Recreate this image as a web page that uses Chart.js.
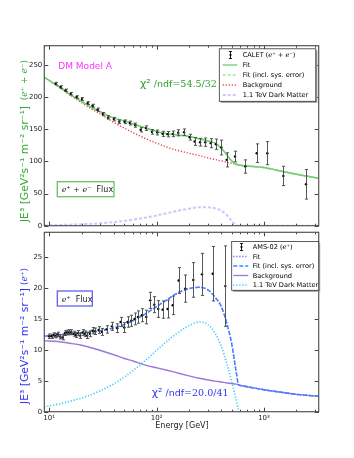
<!DOCTYPE html>
<html>
<head>
<meta charset="utf-8">
<script src="https://cdn.jsdelivr.net/npm/chart.js@4.4.1/dist/chart.umd.min.js"></script>
<style>
  html, body { margin: 0; padding: 0; background: #fff; }
  #wrap { position: relative; width: 354px; height: 458px; }
  canvas { position: absolute; left: 0; top: 0; }
</style>
</head>
<body>
<div id="wrap">
  <canvas id="topChart" width="354" height="458"></canvas>
  <canvas id="botChart" width="354" height="458"></canvas>
</div>
<script>
// ---- CALET e+ + e- flux (top panel)
var caletE = [11.5, 12.8, 14.2, 15.9, 18.0, 20.2, 22.8, 25.3, 28.2, 31.6, 35.5, 40.0, 44.9, 50.3, 56.4, 63.3, 71.0, 79.6, 90.5, 101.5,
  113.7, 126.6, 142, 159, 180, 203, 226, 254, 284, 319, 357, 401, 449, 537, 670, 855, 1074, 1514, 2462];
var caletFlux = [220.9, 215.7, 210.5, 205.3, 200.1, 197.0, 190.7, 186.6, 180.4, 173.6, 168.4, 165.8, 161.6, 161.6, 159.6, 156.4, 149.2, 151.8, 146.0, 145.0,
  142.9, 142.4, 142.9, 144.5, 145.5, 137.7, 131.0, 129.9, 129.9, 128.4, 126.8, 121.6, 102.4, 107.6, 92.0, 112.8, 112.8, 77.4, 64.4];
var caletErr = [2, 2, 2, 2, 2, 2.2, 2.2, 2.3, 2.5, 2.5, 2.6, 2.7, 2.8, 2.9, 3, 3.2, 3.3, 3.5, 3.6, 3.8,
  4, 4.2, 4.4, 4.8, 5, 4.5, 6, 6, 6.5, 7, 8, 11.5, 11, 8.3, 10.4, 14.5, 18, 15, 23];

var topCurveE = [9, 12, 15, 20, 25, 30, 40, 50, 60, 80, 100, 125, 150, 200, 250, 300, 350, 400, 450, 500, 550, 600, 800, 1000, 1500, 2000, 3230];
var fitTop = [230.8, 217.8, 206.3, 193.3, 183.5, 177, 167.4, 163.2, 158.5, 151.8, 146.6, 143, 141.4, 138.8, 135, 132, 128.4, 120.6, 110.2, 100.8, 95.6, 94, 92, 90.4, 84.2, 80, 73.8];
var bgTop = [230.8, 216.5, 205, 191.5, 181, 173.6, 160.6, 151.8, 145, 135, 128.4, 122.1, 118, 112.8, 109.1, 105.5, 103, 100.8, 98.8, 97.2, 95.6, 94, 92, 90.4, 84.2, 80, 73.8];
var dmTop = [0.5, 1, 1.5, 2.3, 3, 3.8, 5.5, 7.5, 9.3, 12.8, 16, 19.5, 22.5, 26.5, 28.6, 28.8, 27, 23.4, 16.6, 7.8, 0.5, 0, 0, 0, 0, 0, 0];
var yTicksTop = [0, 50, 100, 150, 200, 250];

// ---- AMS-02 e+ flux (bottom panel)
var amsE = [10.0, 10.51, 11.05, 11.54, 12.13, 12.66, 13.31, 14.0, 14.61, 15.36, 16.03, 16.86, 17.72, 18.63, 19.45, 20.44, 21.49, 22.6, 23.92, 25.33,
  26.83, 28.82, 30.95, 34.21, 38.36, 43.0, 46.2, 49.98, 53.7, 58.07, 62.4, 67.0, 72.9, 80.1, 87.2, 95.1, 103.6, 113.7, 126.6, 141,
  160.3, 185, 219.6, 264.5, 332.4, 436.3];
var amsFlux = [12.2, 12.2, 12.4, 12.3, 12.5, 12.1, 12.0, 12.7, 12.8, 12.85, 12.85, 12.6, 12.4, 12.7, 12.3, 12.8, 12.6, 12.3, 12.6, 13.1,
  13.0, 13.2, 12.9, 13.3, 13.8, 13.5, 14.5, 13.6, 14.5, 14.7, 15.0, 15.3, 15.6, 15.3, 18.0, 17.3, 16.6, 16.5, 16.6, 17.2,
  21.2, 19.9, 21.3, 22.2, 22.3, 20.3];
var amsErr = [0.35, 0.35, 0.35, 0.35, 0.35, 0.35, 0.38, 0.38, 0.38, 0.4, 0.4, 0.4, 0.42, 0.42, 0.44, 0.45, 0.46, 0.47, 0.48, 0.5,
  0.52, 0.54, 0.56, 0.6, 0.65, 0.7, 0.75, 0.8, 0.85, 0.9, 0.95, 1.0, 1.05, 1.1, 1.3, 1.3, 1.35, 1.4, 1.45, 1.5,
  2.1, 2.2, 2.8, 3.4, 4.4, 6.5];

var botCurveE = [9, 12, 15, 20, 25, 30, 40, 50, 60, 80, 100, 125, 150, 200, 250, 300, 350, 400, 450, 500, 550, 580, 600, 800, 1000, 1500, 2000, 3230];
var fitBot = [12.2, 12.4, 12.55, 12.75, 12.9, 13.1, 13.55, 14.1, 14.7, 15.9, 17.0, 18.1, 19.0, 19.9, 20.1, 19.7, 18.5, 17.0, 14.3, 11.0, 6.5, 4.35, 4.25, 3.85, 3.55, 3.1, 2.8, 2.5];
var bgBot = [11.45, 11.35, 11.1, 10.75, 10.3, 9.9, 9.2, 8.6, 8.2, 7.5, 7.1, 6.7, 6.35, 5.8, 5.4, 5.15, 4.95, 4.8, 4.65, 4.55, 4.45, 4.35, 4.25, 3.85, 3.55, 3.1, 2.8, 2.5];
var dmBot = [0.8, 1.2, 1.6, 2.2, 2.8, 3.4, 4.5, 5.6, 6.6, 8.4, 9.9, 11.4, 12.5, 13.9, 14.5, 14.1, 12.7, 10.6, 7.8, 4.9, 2.0, 0.3, 0, 0, 0, 0, 0, 0];
var yTicksBot = [0, 5, 10, 15, 20, 25];
var xTickLabels = { 10: '10¹', 100: '10²', 1000: '10³' };

var SANS = 'DejaVu Sans';
var SERIF = 'DejaVu Serif';

function pts(xs, ys) {
  return xs.map(function(v, i) { return { x: v, y: ys[i] }; });
}

function rich(ctx, x, y, parts, align) {
  var w = 0;
  parts.forEach(function(p) { ctx.font = p[1]; w += ctx.measureText(p[0]).width; });
  var cx = align === 'center' ? x - w / 2 : x;
  parts.forEach(function(p) {
    ctx.font = p[1];
    ctx.fillStyle = p[2];
    ctx.fillText(p[0], cx, y);
    cx += ctx.measureText(p[0]).width;
  });
}

function makeErrorBars(xs, ys, errs) {
  return {
    id: 'errbars',
    afterDatasetsDraw: function(chart) {
      var ctx = chart.ctx, a = chart.chartArea, sx = chart.scales.x, sy = chart.scales.y;
      ctx.save();
      ctx.beginPath(); ctx.rect(a.left, a.top, a.width, a.height); ctx.clip();
      ctx.strokeStyle = '#444'; ctx.lineWidth = 0.9;
      xs.forEach(function(e, i) {
        var px = Math.round(sx.getPixelForValue(e)) + 0.5;
        var p1 = sy.getPixelForValue(ys[i] + errs[i]);
        var p2 = sy.getPixelForValue(ys[i] - errs[i]);
        ctx.beginPath();
        ctx.moveTo(px, p1); ctx.lineTo(px, p2);
        ctx.moveTo(px - 1.6, p1); ctx.lineTo(px + 1.6, p1);
        ctx.moveTo(px - 1.6, p2); ctx.lineTo(px + 1.6, p2);
        ctx.stroke();
      });
      ctx.restore();
    }
  };
}

var frame = {
  id: 'frame',
  afterDraw: function(chart) {
    var ctx = chart.ctx, a = chart.chartArea, sx = chart.scales.x, sy = chart.scales.y;
    ctx.save();
    ctx.strokeStyle = '#444'; ctx.lineWidth = 1;
    ctx.beginPath();
    for (var n = 0; n <= 3; n++) {
      for (var k = 1; k <= 9; k++) {
        var v = k * Math.pow(10, n);
        if (v < sx.min || v > sx.max) continue;
        var l = k === 1 ? 4 : 2;
        var px = Math.round(sx.getPixelForValue(v)) + 0.5;
        ctx.moveTo(px, a.bottom); ctx.lineTo(px, a.bottom - l);
        ctx.moveTo(px, a.top); ctx.lineTo(px, a.top + l);
      }
    }
    sy.ticks.forEach(function(t) {
      var py = Math.round(sy.getPixelForValue(t.value)) + 0.5;
      ctx.moveTo(a.left, py); ctx.lineTo(a.left + 4, py);
      ctx.moveTo(a.right, py); ctx.lineTo(a.right - 4, py);
    });
    ctx.stroke();
    ctx.strokeStyle = '#555'; ctx.lineWidth = 1.2;
    ctx.strokeRect(a.left, a.top, a.width, a.height);
    ctx.restore();
  }
};

// legend rows: [kind, color, dash, width, parts]
function drawLegend(ctx, box, rows, sx0, sx1, tx, y0, dy) {
  ctx.save();
  ctx.fillStyle = '#999';
  ctx.fillRect(box[0] + 1.5, box[1] + 1.5, box[2], box[3]);
  ctx.fillStyle = '#fff';
  ctx.fillRect(box[0], box[1], box[2], box[3]);
  ctx.strokeStyle = '#333'; ctx.lineWidth = 0.8;
  ctx.strokeRect(box[0], box[1], box[2], box[3]);
  rows.forEach(function(r, i) {
    var y = y0 + i * dy;
    if (r[0] === 'err') {
      var cx = Math.round((sx0 + sx1) / 2) + 0.5;
      ctx.strokeStyle = '#000'; ctx.lineWidth = 0.9; ctx.setLineDash([]);
      ctx.beginPath();
      ctx.moveTo(cx, y - 3.5); ctx.lineTo(cx, y + 3.5);
      ctx.moveTo(cx - 1.6, y - 3.5); ctx.lineTo(cx + 1.6, y - 3.5);
      ctx.moveTo(cx - 1.6, y + 3.5); ctx.lineTo(cx + 1.6, y + 3.5);
      ctx.stroke();
      ctx.fillStyle = '#000';
      ctx.beginPath(); ctx.arc(cx, y, 1.1, 0, Math.PI * 2); ctx.fill();
    } else {
      ctx.strokeStyle = r[1]; ctx.lineWidth = r[3]; ctx.setLineDash(r[2]);
      ctx.beginPath(); ctx.moveTo(sx0, y); ctx.lineTo(sx1, y); ctx.stroke();
      ctx.setLineDash([]);
    }
    ctx.textBaseline = 'middle';
    rich(ctx, tx, y + 0.5, r[4], 'left');
  });
  ctx.restore();
}

function yLabel(ctx, x, y, parts) {
  ctx.save();
  ctx.translate(x, y);
  ctx.rotate(-Math.PI / 2);
  ctx.textBaseline = 'middle';
  rich(ctx, 0, 0, parts, 'center');
  ctx.restore();
}

var LF = '6.6px ' + SANS, LS = '6.6px ' + SERIF, LI = 'italic 6.6px ' + SERIF;

var topDeco = {
  id: 'topDeco',
  afterDraw: function(chart) {
    var ctx = chart.ctx;
    ctx.save();
    ctx.textBaseline = 'alphabetic';
    rich(ctx, 58.3, 68.5, [['DM Model A', '9px ' + SANS, '#ff33ff']], 'left');
    rich(ctx, 140, 86.5, [['χ²', '11px ' + SANS, '#2e9e2e'], [' /ndf', '9.5px ' + SANS, '#2e9e2e'], ['=', '9.5px ' + SERIF, '#2e9e2e'], ['54.5/32', '9.5px ' + SERIF, '#2e9e2e']], 'left');
    ctx.strokeStyle = '#66c066'; ctx.lineWidth = 1.3;
    ctx.strokeRect(57.3, 181.7, 56.7, 15);
    rich(ctx, 61.7, 192, [['e⁺ + e⁻', 'italic 8px ' + SERIF, '#222'], ['  Flux', '8px ' + SANS, '#222']], 'left');
    yLabel(ctx, 25, 141, [['JE³ [GeV²s⁻¹ m⁻² sr⁻¹]', '10.8px ' + SANS, '#33aa33'], ['  (', '9px ' + SERIF, '#33aa33'], ['e⁺ + e⁻', 'italic 9px ' + SERIF, '#33aa33'], [')', '9px ' + SERIF, '#33aa33']]);
    drawLegend(ctx, [219.3, 48.8, 96.5, 52.5], [
      ['err', '#000', [], 1, [['CALET ', LF, '#000'], ['(', LS, '#000'], ['e⁺ + e⁻', LI, '#000'], [')', LS, '#000']]],
      ['line', '#6fcf6f', [], 1.3, [['Fit', LF, '#000']]],
      ['line', '#99ee99', [3, 2], 1.3, [['Fit (incl. sys. error)', LF, '#000']]],
      ['line', '#f03a4a', [1.2, 1.8], 1.3, [['Background', LF, '#000']]],
      ['line', '#c8c8ff', [3, 2], 1.8, [['1.1 TeV Dark Matter', LF, '#000']]]
    ], 222.7, 237.3, 242.7, 55, 10);
    ctx.restore();
  }
};

var botDeco = {
  id: 'botDeco',
  afterDraw: function(chart) {
    var ctx = chart.ctx;
    ctx.save();
    ctx.textBaseline = 'alphabetic';
    rich(ctx, 151.7, 395.5, [['χ²', '11px ' + SANS, '#3333ee'], [' /ndf', '9.5px ' + SANS, '#3333ee'], ['=', '9.5px ' + SERIF, '#3333ee'], ['20.0/41', '9.5px ' + SERIF, '#3333ee']], 'left');
    ctx.strokeStyle = '#6060ee'; ctx.lineWidth = 1.3;
    ctx.strokeRect(57.3, 291, 35, 15);
    rich(ctx, 61.7, 301.5, [['e⁺', 'italic 8px ' + SERIF, '#222'], ['  Flux', '8px ' + SANS, '#222']], 'left');
    rich(ctx, 182, 428, [['Energy [GeV]', '8px ' + SANS, '#222']], 'center');
    yLabel(ctx, 25, 336, [['JE³ [GeV²s⁻¹ m⁻² sr⁻¹]', '10.8px ' + SANS, '#3333ee'], [' (', '9px ' + SERIF, '#3333ee'], ['e⁺', 'italic 9px ' + SERIF, '#3333ee'], [')', '9px ' + SERIF, '#3333ee']]);
    drawLegend(ctx, [231.7, 241.5, 87, 48.8], [
      ['err', '#000', [], 1, [['AMS-02 ', LF, '#000'], ['(', LS, '#000'], ['e⁺', LI, '#000'], [')', LS, '#000']]],
      ['line', '#6666ff', [1.2, 1.8], 1.3, [['Fit', LF, '#000']]],
      ['line', '#2f8fff', [4, 2], 1.3, [['Fit (incl. sys. error)', LF, '#000']]],
      ['line', '#9a77dd', [], 1.3, [['Background', LF, '#000']]],
      ['line', '#33ccff', [1.2, 1.8], 1.5, [['1.1 TeV Dark Matter', LF, '#000']]]
    ], 233.3, 248.3, 252.7, 247, 9.5);
    ctx.restore();
  }
};

function lineSet(label, xs, ys, color, dash, width) {
  return {
    label: label, data: pts(xs, ys), borderColor: color, borderDash: dash, borderWidth: width,
    pointRadius: 0, fill: false, cubicInterpolationMode: 'monotone'
  };
}

function dataSet(label, xs, ys) {
  return {
    label: label, data: pts(xs, ys), showLine: false, pointRadius: 1.2,
    pointBackgroundColor: '#000', pointBorderColor: '#000', pointBorderWidth: 0
  };
}

function yScale(max, ticks, width) {
  return {
    min: 0, max: max,
    afterBuildTicks: function(s) { s.ticks = ticks.map(function(v) { return { value: v }; }); },
    afterFit: function(s) { s.width = width; },
    grid: { display: false, drawTicks: false },
    border: { display: false },
    ticks: { padding: 2, color: '#222', font: { family: SANS, size: 7 } }
  };
}

var common = { responsive: false, animation: false, devicePixelRatio: 1, plugins: { legend: { display: false }, tooltip: { enabled: false } } };

new Chart(document.getElementById('topChart'), {
  type: 'line',
  data: {
    datasets: [
      dataSet('CALET (e⁺ + e⁻)', caletE, caletFlux),
      lineSet('Fit', topCurveE, fitTop, '#6fcf6f', [], 1.5),
      lineSet('Fit (incl. sys. error)', topCurveE, fitTop, '#99ee99', [3, 2], 1.5),
      lineSet('Background', topCurveE, bgTop, '#f03a4a', [1.2, 1.8], 1.4),
      lineSet('1.1 TeV Dark Matter', topCurveE, dmTop, '#c8c8ff', [3, 2], 2)
    ]
  },
  options: Object.assign({}, common, {
    layout: { padding: { left: 0, right: 35.3, top: 45.7, bottom: 232.3 } },
    scales: {
      x: { type: 'logarithmic', min: 9, max: 3230, display: false },
      y: yScale(280, yTicksTop, 44.3)
    }
  }),
  plugins: [makeErrorBars(caletE, caletFlux, caletErr), frame, topDeco]
});

new Chart(document.getElementById('botChart'), {
  type: 'line',
  data: {
    datasets: [
      dataSet('AMS-02 (e⁺)', amsE, amsFlux),
      lineSet('Fit', botCurveE, fitBot, '#6666ff', [1.2, 1.8], 1.5),
      lineSet('Fit (incl. sys. error)', botCurveE, fitBot, '#2f8fff', [4, 2], 1.5),
      lineSet('Background', botCurveE, bgBot, '#9a77dd', [], 1.4),
      lineSet('1.1 TeV Dark Matter', botCurveE, dmBot, '#33ccff', [1.2, 1.8], 1.6)
    ]
  },
  options: Object.assign({}, common, {
    layout: { padding: { left: 0, right: 35.3, top: 232.3, bottom: 0 } },
    scales: {
      x: {
        type: 'logarithmic', min: 9, max: 3230,
        afterBuildTicks: function(s) { s.ticks = [10, 100, 1000].map(function(v) { return { value: v }; }); },
        afterFit: function(s) { s.height = 458 - 411.7; },
        grid: { display: false, drawTicks: false },
        border: { display: false },
        ticks: { padding: 2, color: '#222', maxRotation: 0, autoSkip: false, font: { family: SANS, size: 7 },
          callback: function(v) { return xTickLabels[v] || ''; } }
      },
      y: yScale(29, yTicksBot, 44.3)
    }
  }),
  plugins: [makeErrorBars(amsE, amsFlux, amsErr), frame, botDeco]
});
</script>
</body>
</html>
